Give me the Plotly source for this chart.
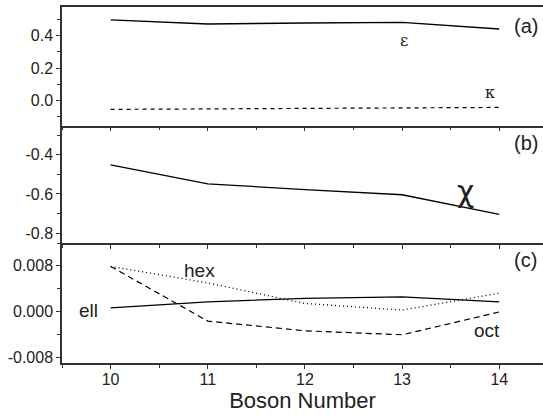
import plotly.graph_objects as go

boson = [10, 11, 12, 13, 14]
eps = [0.499, 0.473, 0.479, 0.483, 0.442]
kappa = [-0.055, -0.053, -0.050, -0.047, -0.043]
chi = [-0.451, -0.548, -0.578, -0.604, -0.704]
ell = [0.00063, 0.00168, 0.00228, 0.00256, 0.00168]
hexa = [0.0079, 0.0050, 0.0014, 0.00023, 0.0032]
octa = [0.0079, -0.0017, -0.0034, -0.0041, -0.0001]

ya_vals = [0.0, 0.2, 0.4]
ya_text = ["0.0", "0.2", "0.4"]
yb_vals = [-0.8, -0.6, -0.4]
yb_text = ["-0.8", "-0.6", "-0.4"]
yc_vals = [-0.008, 0.0, 0.008]
yc_text = ["-0.008", "0.000", "0.008"]

FONT = "Liberation Sans, Arial, sans-serif"
AX = "#333333"

fig = go.Figure()
fig.add_trace(go.Scatter(x=boson, y=eps, mode="lines", line=dict(color="black", width=1.3), xaxis="x", yaxis="y"))
fig.add_trace(go.Scatter(x=boson, y=kappa, mode="lines", line=dict(color="black", width=1.2, dash="4px,4px"), xaxis="x", yaxis="y"))
fig.add_trace(go.Scatter(x=boson, y=chi, mode="lines", line=dict(color="black", width=1.3), xaxis="x2", yaxis="y2"))
fig.add_trace(go.Scatter(x=boson, y=ell, mode="lines", line=dict(color="black", width=1.3), xaxis="x3", yaxis="y3"))
fig.add_trace(go.Scatter(x=boson, y=hexa, mode="lines", line=dict(color="black", width=1.3, dash="1px,3px"), xaxis="x3", yaxis="y3"))
fig.add_trace(go.Scatter(x=boson, y=octa, mode="lines", line=dict(color="black", width=1.2, dash="6px,4px"), xaxis="x3", yaxis="y3"))

xr = [9.5, 14.45]
common_x = dict(range=xr, showgrid=False, zeroline=False, showline=True, linecolor=AX, linewidth=1.5,
                ticks="outside", ticklen=4, tickcolor=AX, tickwidth=1, dtick=1, tick0=10,
                minor=dict(ticks="outside", ticklen=3, dtick=0.5, tickcolor=AX))
common_y = dict(showgrid=False, zeroline=False, showline=True, linecolor=AX, linewidth=1.5,
                ticks="outside", ticklen=4, tickcolor=AX, tickwidth=1,
                tickfont=dict(family=FONT, size=16, color="#222"))

layout = dict(
    width=543, height=419, margin=dict(l=62, r=0, t=7, b=56),
    paper_bgcolor="white", plot_bgcolor="white", showlegend=False,
    xaxis=dict(common_x, domain=[0, 1], anchor="y", showticklabels=False, mirror=True),
    xaxis2=dict(common_x, domain=[0, 1], anchor="y2", showticklabels=False, matches="x"),
    xaxis3=dict(common_x, domain=[0, 1], anchor="y3", matches="x", ticklabelstandoff=-3,
                tickfont=dict(family=FONT, size=16, color="#222"),
                title=dict(text="Boson Number", font=dict(family=FONT, size=22, color="#222"), standoff=6)),
    yaxis=dict(common_y, domain=[0.667, 1], range=[-0.155, 0.578], tickvals=ya_vals, ticktext=ya_text,
               minor=dict(ticks="outside", ticklen=3, dtick=0.1, tick0=0, tickcolor=AX)),
    yaxis2=dict(common_y, domain=[0.337, 0.667], range=[-0.851, -0.25], tickvals=yb_vals, ticktext=yb_text,
                minor=dict(ticks="outside", ticklen=3, dtick=0.1, tick0=0, tickcolor=AX)),
    yaxis3=dict(common_y, domain=[0, 0.337], range=[-0.00905, 0.012], tickvals=yc_vals, ticktext=yc_text,
                minor=dict(ticks="outside", ticklen=3, dtick=0.004, tick0=0, tickcolor=AX)),
)
fig.update_layout(**layout)

def ann(text, x, y, xref, yref, size, family=FONT):
    fig.add_annotation(text=text, x=x, y=y, xref=xref, yref=yref, showarrow=False,
                       font=dict(family=family, size=size, color="#222"))

ann("(a)", 14.27, 0.462, "x", "y", 20)
ann("ε", 13.02, 0.37, "x", "y", 16, "DejaVu Serif")
ann("κ", 13.9, 0.05, "x", "y", 16, "DejaVu Serif")
ann("(b)", 14.27, -0.337, "x2", "y2", 20)
ann("χ", 13.65, -0.585, "x2", "y2", 30, "DejaVu Sans")
ann("(c)", 14.27, 0.0091, "x3", "y3", 20)
ann("hex", 10.92, 0.0072, "x3", "y3", 19)
ann("ell", 9.77, 0.0002, "x3", "y3", 19)
ann("oct", 13.87, -0.0034, "x3", "y3", 19)

fig.write_html("out.html")
